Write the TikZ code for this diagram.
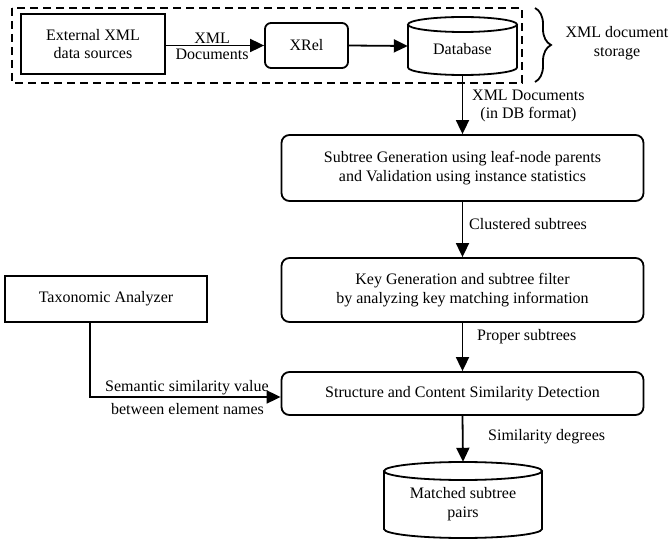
\documentclass[tikz,border=0pt]{standalone}
\usepackage{fontspec}
\setmainfont{Liberation Serif}
\usetikzlibrary{arrows.meta,decorations.pathreplacing}
\begin{document}
\begin{tikzpicture}[x=1pt,y=-1pt,
  every node/.style={font=\fontsize{16}{18.8}\selectfont, align=center, inner sep=0pt},
  sqbox/.style={draw, line width=1.8pt},
  rbox/.style={draw, line width=1.8pt, rounded corners=8pt},
  arr/.style={-{Triangle[length=14pt,width=13pt]}, line width=1.8pt},
  shp/.style={line width=1.8pt}]
\useasboundingbox (0,0) rectangle (670,540);
% storage group
\draw[shp, dash pattern=on 8pt off 5pt] (12,8) rectangle (522,83);
\node[sqbox, minimum width=144pt, minimum height=60pt] (ext) at (93,44) {External XML\\data sources};
\node[rbox, rounded corners=6pt, minimum width=83pt, minimum height=45pt] (xrel) at (306.5,45.5) {XRel};
\node[minimum width=109pt, minimum height=58pt] (db) at (462.5,46) {};
\draw[shp] (462.5,24.5) ellipse [x radius=54.5pt, y radius=7.5pt];
\draw[shp] (408,24.5) -- (408,67.5) arc[start angle=180, end angle=360, x radius=54.5pt, y radius=7.5pt] -- (517,24.5);
\node (dbl) at (462.5,49) {Database};
\draw[shp, decorate, decoration={brace, amplitude=16pt}] (535,8) -- (535,82);
\node (stl) at (617,43) {XML document\\storage};
\draw[arr] (ext.east |- xrel.west) -- (xrel.west)
  node[pos=0.47, above=1pt] {XML} node[pos=0.47, below=3pt] {Documents};
\draw[arr] (xrel.east) -- (db.west);
% pipeline
\node[rbox, minimum width=362pt, minimum height=66pt] (sub) at (462.5,168) {Subtree Generation using leaf-node parents\\and Validation using instance statistics};
\node[rbox, minimum width=362pt, minimum height=64pt] (key) at (462.5,290) {Key Generation and subtree filter\\by analyzing key matching information};
\node[rbox, minimum width=362pt, minimum height=43pt] (str) at (462.5,393.5) {Structure and Content Similarity Detection};
\node[sqbox, minimum width=202pt, minimum height=46pt] (tax) at (106,299) {Taxonomic Analyzer};
\node[minimum width=158pt, minimum height=76pt] (mat) at (463,500) {};
\draw[shp] (463,471) ellipse [x radius=79pt, y radius=9pt];
\draw[shp] (384,471) -- (384,529) arc[start angle=180, end angle=360, x radius=79pt, y radius=9pt] -- (542,471);
\node (matl) at (463,504.5) {Matched subtree\\pairs};
% connectors
\draw[arr] (db.south) -- (sub.north);
\node[anchor=west] (l1) at (472,106) {XML Documents\\(in DB format)};
\draw[arr] (sub.south) -- (key.north);
\node[anchor=west] (l2) at (469,224) {Clustered subtrees};
\draw[arr] (key.south) -- (str.north);
\node[anchor=west] (l3) at (477,337) {Proper subtrees};
\draw[arr] (str.south) -- (mat.north);
\node[anchor=west] (l4) at (488,437) {Similarity degrees};
\coordinate (bend) at (90,397);
\draw[arr] (tax.south -| bend) -- (bend) -- (bend -| str.west);
\node (l5) at (187,388) {Semantic similarity value};
\node (l6) at (187.5,409) {between element names};
\end{tikzpicture}
\end{document}
